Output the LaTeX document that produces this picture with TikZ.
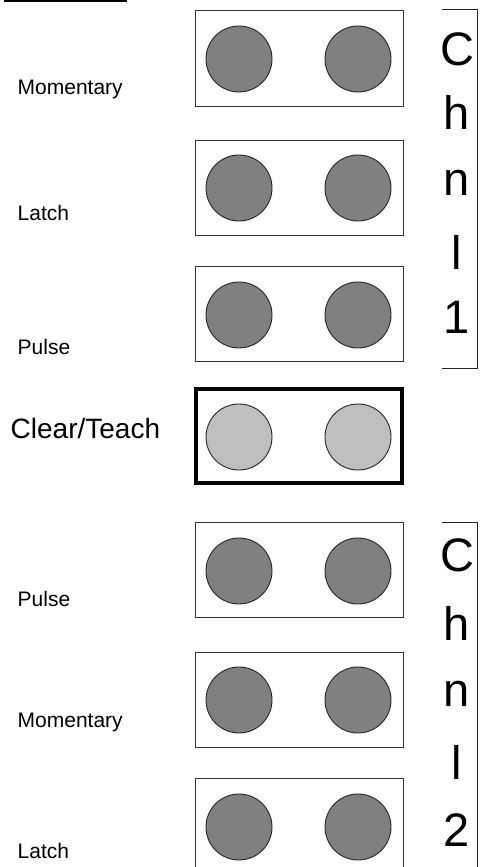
\documentclass[tikz,border=0pt]{standalone}
\usepackage{fontspec}
\setmainfont{Liberation Sans}
\begin{document}
\begin{tikzpicture}[x=1pt,y=-1pt,
  swbox/.style={draw=black!80, line width=1pt, rectangle, minimum width=207.5pt, minimum height=95pt, inner sep=0pt},
  clearbox/.style={draw=black, line width=4pt, rectangle, minimum width=206pt, minimum height=94pt, inner sep=0pt},
  led/.style={circle, draw=black!85, line width=0.9pt, fill=black!50, minimum size=66pt, inner sep=0pt},
  ledlight/.style={led, fill=black!25},
  lbl/.style={font=\fontsize{21}{25}\selectfont, anchor=base west, inner sep=0pt},
  biglbl/.style={font=\fontsize{28}{33}\selectfont, anchor=base west, inner sep=0pt},
  chn/.style={font=\fontsize{47}{50}\selectfont, anchor=base, inner sep=0pt},
  bracket/.style={draw=black!85, line width=1pt}]
\useasboundingbox (0,0) rectangle (484,867);

% top-left rule
\draw[line width=1.2pt] (4,1) -- (127,1);

% channel 1 boxes
\node[swbox] (b1) at (299.25,58.5) {};
\node[led] (b1l) at (239,59) {};
\node[led] (b1r) at (358,59) {};
\node[swbox] (b2) at (299.25,188) {};
\node[led] (b2l) at (239,188) {};
\node[led] (b2r) at (358,188) {};
\node[swbox] (b3) at (299.25,314) {};
\node[led] (b3l) at (239,315) {};
\node[led] (b3r) at (358,315) {};

% clear/teach
\node[clearbox] (bc) at (299,436) {};
\node[ledlight] (bcl) at (239,437) {};
\node[ledlight] (bcr) at (358,437) {};

% channel 2 boxes
\node[swbox] (b4) at (299.25,570) {};
\node[led] (b4l) at (239,571) {};
\node[led] (b4r) at (358,571) {};
\node[swbox] (b5) at (299.25,699.5) {};
\node[led] (b5l) at (239,700) {};
\node[led] (b5r) at (358,700) {};
\node[swbox] (b6) at (299.25,825.5) {};
\node[led] (b6l) at (239,827) {};
\node[led] (b6r) at (358,827) {};

% labels
\node[lbl] (l1) at (17.5,94) {Momentary};
\node[lbl] (l2) at (17.5,220) {Latch};
\node[lbl] (l3) at (17.5,354) {Pulse};
\node[biglbl] (lc) at (10.5,438) {Clear/Teach};
\node[lbl] (l4) at (17.5,606) {Pulse};
\node[lbl] (l5) at (17.5,727) {Momentary};
\node[lbl] (l6) at (17.5,858) {Latch};

% channel 1 bracket
\draw[bracket] (442,10) -- (477,10) -- (477,368) -- (442,368);
\node[chn] (c1a) at (457,66) {C};
\node[chn] (c1b) at (457,129) {h};
\node[chn] (c1c) at (457,195) {n};
\node[chn] (c1d) at (457,269) {l};
\node[chn] (c1e) at (457,333) {1};

% channel 2 bracket
\draw[bracket] (442,522) -- (477,522) -- (477,872);
\node[chn] (c2a) at (457,571) {C};
\node[chn] (c2b) at (457,640) {h};
\node[chn] (c2c) at (457,706) {n};
\node[chn] (c2d) at (457,779) {l};
\node[chn] (c2e) at (457,846) {2};
\end{tikzpicture}
\end{document}
